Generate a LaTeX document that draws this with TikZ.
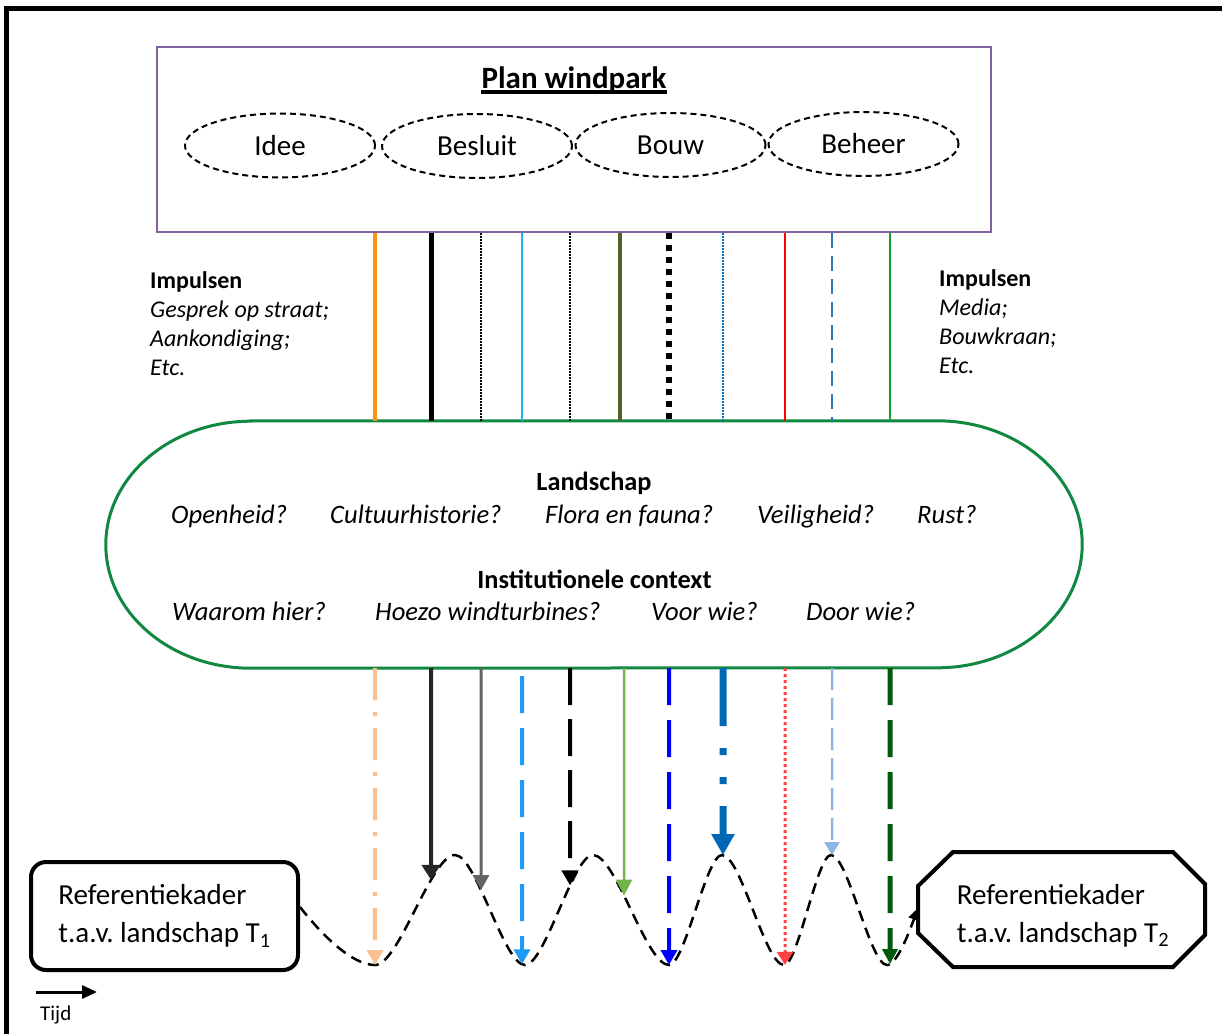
\documentclass[tikz,border=0pt]{standalone}
\usepackage{fontspec}
\setmainfont{Carlito}
\frenchspacing
\usetikzlibrary{arrows.meta,shapes.geometric,intersections}
\definecolor{planpurple}{RGB}{128,100,162}
\definecolor{landgreen}{RGB}{16,136,64}
\definecolor{cI1}{RGB}{247,150,20}
\definecolor{cI4}{RGB}{30,180,240}
\definecolor{cI6}{RGB}{79,98,40}
\definecolor{cI8}{RGB}{0,112,192}
\definecolor{cI10}{RGB}{46,117,182}
\definecolor{cI11}{RGB}{20,160,40}
\definecolor{cO1}{RGB}{250,192,144}
\definecolor{cO2}{RGB}{38,38,38}
\definecolor{cO3}{RGB}{99,99,99}
\definecolor{cO4}{RGB}{30,155,245}
\definecolor{cO6}{RGB}{115,180,75}
\definecolor{cO7}{RGB}{0,0,255}
\definecolor{cO8}{RGB}{0,103,181}
\definecolor{cO9}{RGB}{255,64,64}
\definecolor{cO10}{RGB}{141,180,226}
\definecolor{cO11}{RGB}{0,90,10}
\tikzset{
  phase/.style={ellipse, draw, line width=2pt, dash pattern=on 6pt off 4pt, minimum width=190pt, minimum height=64pt, inner sep=0pt, font=\fontsize{29}{35}\selectfont},
  qtext/.style={inner sep=0pt, anchor=base west, font=\itshape\fontsize{26.6}{31}\selectfont},
  hdtext/.style={inner sep=0pt, anchor=base, font=\bfseries\fontsize{26.3}{31}\selectfont},
  imptext/.style={inner sep=0pt, anchor=base west, align=left, font=\fontsize{24}{29}\selectfont},
  reftext/.style={inner sep=0pt, align=left, font=\fontsize{29}{38}\selectfont},
  wave/.style={line width=2.5pt, dash pattern=on 11pt off 7pt, -{Triangle[length=12pt,width=11pt]}},
  i1/.style={cI1, line width=4pt},
  i2/.style={black, line width=5pt},
  i3/.style={black, line width=1.5pt, dash pattern=on 1.5pt off 1.5pt},
  i4/.style={cI4, line width=2pt},
  i5/.style={black, line width=1.5pt, dash pattern=on 1.5pt off 1.5pt},
  i6/.style={cI6, line width=4pt},
  i7/.style={black, line width=6pt, dash pattern=on 6pt off 6pt},
  i8/.style={cI8, line width=1.5pt, dash pattern=on 1.5pt off 1.5pt},
  i9/.style={red, line width=2pt},
  i10/.style={cI10, line width=2.5pt, dash pattern=on 15pt off 8pt},
  i11/.style={cI11, line width=2pt},
  o1/.style={cO1, line width=4pt, dash pattern=on 32pt off 12pt on 4pt off 12pt, -{Triangle[length=15pt,width=16pt]}},
  o2/.style={cO2, line width=4pt, -{Triangle[length=15pt,width=18pt]}},
  o3/.style={cO3, line width=3pt, -{Triangle[length=15pt,width=16pt]}},
  o4/.style={cO4, line width=4pt, dash pattern=on 37pt off 15pt, dash phase=-8pt, -{Triangle[length=15pt,width=16pt]}},
  o5/.style={black, line width=4pt, dash pattern=on 37pt off 14pt, -{Triangle[length=15pt,width=16pt]}},
  o6/.style={cO6, line width=2.5pt, -{Triangle[length=16pt,width=16pt]}},
  o7/.style={cO7, line width=4pt, dash pattern=on 37pt off 15pt, -{Triangle[length=15pt,width=16pt]}},
  o8/.style={cO8, line width=7pt, dash pattern=on 58pt off 22pt on 7pt off 22pt on 7pt off 22pt, -{Triangle[length=21pt,width=22pt]}},
  o9/.style={cO9, line width=3pt, dash pattern=on 3pt off 3pt, -{Triangle[length=13pt,width=16pt]}},
  o10/.style={cO10, line width=2.5pt, dash pattern=on 22pt off 8pt, -{Triangle[length=13pt,width=15pt]}},
  o11/.style={cO11, line width=5pt, dash pattern=on 37pt off 15pt, -{Triangle[length=15pt,width=15pt]}},
}
\begin{document}
\begin{tikzpicture}[x=1pt,y=1pt]
\useasboundingbox (0,0) rectangle (1222,-1033);
% outer frame
\draw[line width=5.5pt] (6.5,-1040) -- (6.5,-8.5) -- (1230,-8.5);
% plan box
\node[draw=planpurple, line width=2pt, minimum width=834pt, minimum height=185pt, inner sep=0pt] (plan) at (574,-139.5) {};
\node[inner sep=0pt, anchor=base, font=\bfseries\fontsize{31}{37}\selectfont] (title) at (574,-88) {Plan windpark};
\draw[line width=3.5pt] ([yshift=-4pt]title.base west) -- ([yshift=-4pt]title.base east);
\node[phase] (idee) at (280,-145.5) {Idee};
\node[phase] (besluit) at (477,-146) {Besluit};
\node[phase] (bouw) at (670.5,-145) {Bouw};
\node[phase] (beheer) at (863.5,-144) {Beheer};
% impulsen
\node[imptext] (impl) at (150,-375) {\textbf{Impulsen}\\\textit{Gesprek op straat;}\\\textit{Aankondiging;}\\\textit{Etc.}};
\node[imptext] (impr) at (939,-373) {\textbf{Impulsen}\\\textit{Media;}\\\textit{Bouwkraan;}\\\textit{Etc.}};
% landscape shape
\node[minimum width=976pt, minimum height=247pt, inner sep=0pt] (land) at (594,-544.5) {};
\draw[landgreen, line width=3pt] ([xshift=145pt]land.north west) -- ([xshift=-145pt]land.north east)
  arc[start angle=90, end angle=-90, x radius=145pt, y radius=123.5pt]
  -- ([xshift=145pt]land.south west)
  arc[start angle=270, end angle=90, x radius=145pt, y radius=123.5pt] -- cycle;
\node[hdtext] (lands) at (594,-490) {Landschap};
\node[qtext] (q1) at (171,-523) {Openheid?};
\node[qtext] (q2) at (330,-523) {Cultuurhistorie?};
\node[qtext] (q3) at (545,-523) {Flora en fauna?};
\node[qtext] (q4) at (757,-523) {Veiligheid?};
\node[qtext] (q5) at (917,-523) {Rust?};
\node[hdtext] (inst) at (594.5,-588) {Institutionele context};
\node[qtext] (q6) at (172,-620) {Waarom hier?};
\node[qtext] (q7) at (375,-620) {Hoezo windturbines?};
\node[qtext] (q8) at (651,-620) {Voor wie?};
\node[qtext] (q9) at (806,-620) {Door wie?};
% top impulse lines
\foreach \x/\s in {375/i1, 431/i2, 481/i3, 522/i4, 570/i5, 620/i6, 669/i7, 723/i8, 785/i9, 832/i10, 890/i11}
  \draw[\s] (plan.south -| \x,0) -- (land.north -| \x,0);
% reference frames
\node[draw, line width=4pt, rounded corners=15pt, minimum width=267pt, minimum height=108pt, reftext] (refa) at (164.5,-916) {Referentiekader\\t.a.v. landschap T\textsubscript{1}};
\node[reftext] (refb) at (1063,-915.5) {Referentiekader\\t.a.v. landschap T\textsubscript{2}};
\draw[line width=4pt, line join=miter] (953,-852) -- (1173,-852) -- (1205,-884) -- (1205,-935) -- (1173,-967) -- (953,-967) -- (918,-933) -- (918,-886) -- cycle;
\coordinate (refbin) at (918,-908);
% wave
\draw[wave, name path=wavep] ([yshift=9pt]refa.east)
  .. controls (322,-935) and (352,-965) .. (375,-965)
  .. controls (399,-965) and (431,-855) .. (455,-855)
  .. controls (476,-855) and (504,-965) .. (525,-965)
  .. controls (545,-965) and (573,-855) .. (593,-855)
  .. controls (616,-855) and (646,-965) .. (669,-965)
  .. controls (685,-965) and (706,-855) .. (722,-855)
  .. controls (741,-855) and (765,-965) .. (784,-965)
  .. controls (798,-965) and (817,-855) .. (831,-855)
  .. controls (848,-855) and (870,-965) .. (887,-965)
  .. controls (897,-965) and (910,-930) .. (refbin);
% output arrows
\foreach \i/\x/\s in {1/375/o1, 2/431/o2, 3/481/o3, 4/522/o4, 5/570/o5, 6/624/o6, 7/669/o7, 8/723/o8, 9/785/o9, 10/832/o10, 11/890/o11}{
  \path[name path=vv] (\x,-650) -- (\x,-1000);
  \path[name intersections={of=wavep and vv, by={w\i}}];
  \draw[\s] (land.south -| \x,0) -- (w\i);
}
% time arrow
\coordinate (ta) at (36,-992);
\coordinate (tb) at (97,-992);
\draw[line width=3pt, -{Triangle[length=15pt,width=13pt]}] (ta) -- (tb);
\node[inner sep=0pt, anchor=base west, font=\fontsize{21}{25}\selectfont] (tijd) at (40,-1020) {Tijd};
\end{tikzpicture}
\end{document}
